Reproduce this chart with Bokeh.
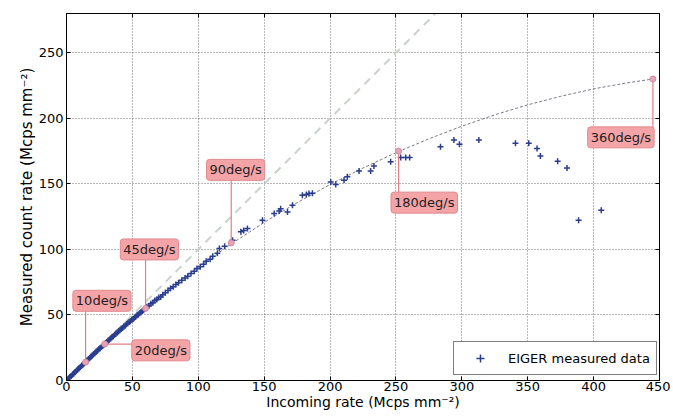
from bokeh.plotting import figure
from bokeh.models import (Range1d, Label, Legend, LegendItem, LinearAxis,
                          FixedTicker)
from bokeh.embed import file_html
from bokeh.resources import INLINE

# ---------------- data ----------------
meas_x = [0.5, 1.5, 2.5, 3.5, 4.5, 5.5, 6.5, 7.5, 8.5, 9.5, 10.5, 11.5, 12.5, 13.5,
          14.5, 15.5, 16.5, 17.5, 18.5, 19.5, 20.5, 21.5, 22.5, 23.5, 24.5, 25.5,
          26.5, 27.5, 28.5, 29.5, 30.5, 31.5, 32.5, 33.5, 34.5, 35.5, 36.5, 37.5,
          38.5, 39.5, 40.5, 41.5, 42.5, 43.5, 44.5, 45.5, 46.5, 47.5, 48.5, 49.5,
          50.5, 51.5, 52.5, 53.5, 54.5, 55.5, 56.5, 57.5, 58.5, 59.5, 61, 62.5, 64,
          65.5, 67, 68.5, 70, 71.5, 73, 75, 77, 79, 81, 83, 85, 87.5, 90, 92, 94.5,
          97, 99, 101.5, 104, 106, 109, 111, 114.5, 116, 120, 126, 132.3, 134.5,
          137.3, 148.7, 157.6, 161.4, 162.5, 167.7, 171.5, 179, 182, 184, 186.6,
          200.5, 204.3, 210.6, 213.1, 222, 230.8, 233.3, 246, 253.6, 257.4, 260.4,
          283.8, 294, 298.2, 312.9, 340.7, 350.8, 357.1, 359.6, 372.7, 379.8,
          388.6, 405.8]
meas_y = [0.5, 1.5, 2.4, 3.4, 4.4, 5.4, 6.4, 7.4, 8.3, 9.3, 10.3, 11.2, 12.3, 13.2,
          14.1, 15.2, 16.1, 17.0, 18.1, 19.0, 20.0, 20.8, 21.9, 22.8, 23.8, 24.7,
          25.6, 26.6, 27.5, 28.4, 29.4, 30.3, 31.0, 32.1, 33.0, 33.8, 34.9, 35.7,
          36.6, 37.6, 38.3, 39.3, 40.1, 41.2, 41.9, 42.9, 43.6, 44.6, 45.2, 46.3,
          47.0, 47.9, 48.6, 49.7, 50.3, 51.4, 52.0, 53.1, 53.6, 54.8, 56.2, 57.0,
          58.6, 59.4, 61.0, 61.8, 63.3, 63.8, 65.5, 67.0, 68.6, 70.3, 71.5, 73.2,
          74.6, 76.4, 78.2, 79.5, 81.6, 83.3, 85.4, 86.8, 88.7, 91.0, 92.5, 94.8,
          97.0, 100.7, 102.5, 107, 113.4, 114.5, 116, 122.3, 127.4, 129.4, 131.0,
          128.6, 133.7, 141.4, 142.0, 142.7, 142.9, 151.5, 149.5, 152.8, 155.4,
          159.9, 159.9, 163.7, 166.8, 170.2, 170.2, 170.2, 178.3, 183.4, 180.3,
          183.4, 181.1, 181.1, 177, 171.2, 167.3, 162.2, 122.3, 129.9]

curve_x = [0, 25, 50, 75, 100, 125, 150, 175, 200, 225, 250, 275, 300, 325, 350,
           375, 400, 425, 445]
curve_y = [0, 24.1, 46.5, 67.2, 86.4, 104.2, 120.6, 135.7, 149.5, 162.1, 173.8,
           184.4, 194.0, 202.7, 210.3, 216.8, 222.5, 227.0, 230.0]

ideal_x = [0, 300]
ideal_y = [0, 300]

ann_labels = ["10deg/s", "20deg/s", "45deg/s", "90deg/s", "180deg/s", "360deg/s"]
ann_x = [14.5, 29, 60, 125, 252, 445]
ann_y = [14, 27.8, 55, 105, 175, 230]

x_ticks = [0, 50, 100, 150, 200, 250, 300, 350, 400, 450]
y_ticks = [0, 50, 100, 150, 200, 250]

# label box placement (layout, data coordinates)
box_x = [26.9, 71.6, 62.9, 128.3, 271.5, 420.7]
box_y = [60.8, 23.0, 100.0, 160.7, 135.7, 185.5]

# ---------------- figure ----------------
FONT = "DejaVu Sans"
p = figure(width=670, height=418, output_backend="svg", toolbar_location=None,
           x_range=Range1d(0, 450), y_range=Range1d(0, 280),
           min_border_left=66, min_border_right=11, min_border_top=13,
           min_border_bottom=38)
p.background_fill_color = "white"
p.border_fill_color = "white"
p.outline_line_color = "black"
p.outline_line_width = 1

for ax in (p.xaxis[0], p.yaxis[0]):
    ax.major_label_text_font = FONT
    ax.major_label_text_font_size = "13px"
    ax.major_label_text_color = "black"
    ax.axis_label_text_font = FONT
    ax.axis_label_text_font_style = "normal"
    ax.axis_label_text_color = "black"
    ax.major_tick_in = 4
    ax.major_tick_out = 0
    ax.minor_tick_line_color = None
    ax.axis_line_color = "black"
    ax.axis_label_standoff = 0
p.xaxis.axis_label_text_font_size = "14px"
p.yaxis.axis_label_text_font_size = "15px"
p.xaxis.major_label_standoff = 1
p.yaxis.major_label_standoff = 3

p.xaxis.ticker = FixedTicker(ticks=x_ticks)
p.yaxis.ticker = FixedTicker(ticks=y_ticks)
p.xaxis.axis_label = "Incoming rate (Mcps mm\u207b\u00b2)"
p.yaxis.axis_label = "Measured count rate (Mcps mm\u207b\u00b2)"

top_ax = LinearAxis(ticker=FixedTicker(ticks=x_ticks),
                    major_label_overrides={t: "" for t in x_ticks},
                    major_tick_in=4, major_tick_out=0, minor_tick_line_color=None,
                    major_label_standoff=0)
right_ax = LinearAxis(ticker=FixedTicker(ticks=y_ticks),
                      major_label_overrides={t: "" for t in y_ticks},
                      major_tick_in=4, major_tick_out=0, minor_tick_line_color=None,
                      major_label_standoff=0)
p.add_layout(top_ax, "above")
p.add_layout(right_ax, "right")

p.grid.grid_line_color = "black"
p.grid.grid_line_alpha = 0.55
p.grid.grid_line_dash = "1 2"
p.grid.grid_line_width = 1

# ideal y = x line
p.line(ideal_x, ideal_y, line_color="#c9d3c9", line_width=2, line_dash="8 6")

# model curve
p.line(curve_x, curve_y, line_color="#7a7a8a", line_width=1, line_dash="3 2")

# measured data
meas = p.scatter(meas_x, meas_y, marker="cross", size=6, line_color="#2a3d8f",
                 line_width=1.5)

# connector lines
for i in range(len(ann_labels)):
    if i == 1:
        xs = [ann_x[i], box_x[i]]
        ys = [ann_y[i], ann_y[i]]
    else:
        xs = [ann_x[i], ann_x[i]]
        ys = [ann_y[i], box_y[i]]
    p.line(xs, ys, line_color="#e07f86", line_width=1.2)

p.scatter(ann_x, ann_y, marker="circle", size=6, fill_color="#e6a3b8",
          line_color="#d48aa0", line_width=1)

for i, lab in enumerate(ann_labels):
    p.add_layout(Label(x=box_x[i], y=box_y[i], text=lab, text_font=FONT,
                       text_font_size="13px", text_color="#222222",
                       text_align="center", text_baseline="middle",
                       background_fill_color="#f4a3a6", background_fill_alpha=1.0,
                       border_line_color="#e08a8f", border_line_width=1,
                       padding=3, border_radius=3))

legend = Legend(items=[LegendItem(label="EIGER measured data", renderers=[meas])],
                location=(387, 5), orientation="vertical")
legend.label_text_font = FONT
legend.label_text_font_size = "13px"
legend.label_text_color = "black"
legend.glyph_width = 40
legend.label_standoff = 8
legend.padding = 6
legend.border_line_color = "black"
legend.border_line_width = 1
legend.background_fill_color = "white"
legend.background_fill_alpha = 1.0
p.add_layout(legend)

open("out.html", "w").write(file_html(p, INLINE))
